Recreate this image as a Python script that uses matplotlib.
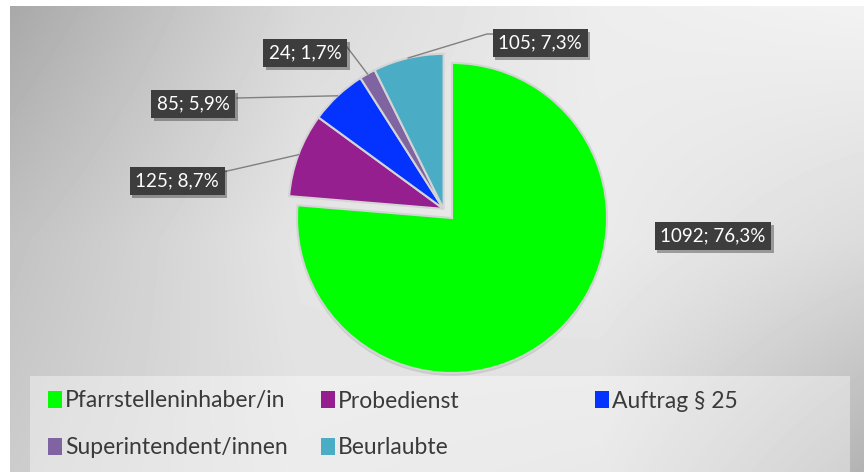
import numpy as np
import matplotlib
matplotlib.use('Agg')
import matplotlib.pyplot as plt
import matplotlib.patheffects as pe
from matplotlib.legend import Legend
from matplotlib.patches import Rectangle

plt.rcParams['font.family'] = ['Lato', 'DejaVu Sans']

categories = ['Pfarrstelleninhaber/in', 'Probedienst', 'Auftrag § 25',
              'Superintendent/innen', 'Beurlaubte']
counts = [1092, 125, 85, 24, 105]
colors = ['#00ff00', '#951f8f', '#0433ff', '#8064a2', '#4bacc6']

W, H = 864, 472
dpi = 100

# layout in pixels (from top-left): label box centres, leader line ends, legend entries
label_pos = [(713, 236), (177, 181), (193, 104), (305, 53), (540, 43)]
leader_end = [None, [(223, 172)], [(237, 98)], [(347, 47)], [(487, 34), (493, 34)]]
legend_pos = [(48, 401), (321, 401), (595, 401), (48, 448), (321, 448)]

fig = plt.figure(figsize=(W / dpi, H / dpi), dpi=dpi)
ax = fig.add_axes([0, 0, 1, 1])

# grey gradient background
gx = [10, 300, 600, 864]
gy = [6, 240, 472]
gv = [[0.66, 0.85, 0.93, 0.95],
      [0.76, 0.90, 0.92, 0.86],
      [0.80, 0.88, 0.86, 0.70]]
X = np.arange(10, W)
Y = np.arange(6, H)
rows = np.array([np.interp(X, gx, r) for r in gv])
img = np.array([np.interp(Y, gy, rows[:, j]) for j in range(len(X))]).T
ax.imshow(img, cmap='gray', vmin=0, vmax=1, extent=(10, W, 0, H - 6),
          origin='upper', aspect='auto', zorder=0, interpolation='bilinear')

cx, cy = 452, H - 218
r = 155
wedges, _ = ax.pie(counts, colors=colors, startangle=90, counterclock=False,
                   center=(cx, cy), radius=r, frame=True,
                   wedgeprops=dict(edgecolor='#d4d4d4', linewidth=1.5, zorder=2))
wedges[0].set_path_effects([pe.SimplePatchShadow(offset=(0, -2), shadow_rgbFace='#9a9a9a',
                                                 alpha=0.35), pe.Normal()])

# pull the small slices out together
t_lo = min(w.theta1 for w in wedges[1:])
t_hi = max(w.theta2 for w in wedges[1:])
mid = np.radians((t_lo + t_hi) / 2)
off = 0.08 * r
for w in wedges[1:]:
    w.set_center((cx + off * np.cos(mid), cy + off * np.sin(mid)))

total = sum(counts)
for i, w in enumerate(wedges):
    pct = 100 * counts[i] / total
    txt = f'{counts[i]}; {pct:.1f}%'.replace('.', ',')
    lx, ly = label_pos[i]
    t = ax.text(lx, H - ly, txt, ha='center', va='center', color='white',
                fontsize=13.5, zorder=6,
                bbox=dict(boxstyle='square,pad=0.3', facecolor='#3d3d3d',
                          edgecolor='none'))
    t.get_bbox_patch().set_path_effects(
        [pe.SimplePatchShadow(offset=(2, -2), alpha=0.35), pe.Normal()])
    if leader_end[i]:
        a = np.radians((w.theta1 + w.theta2) / 2)
        wx, wy = w.center
        xs = [wx + r * np.cos(a)] + [p[0] for p in leader_end[i]]
        ys = [wy + r * np.sin(a)] + [H - p[1] for p in leader_end[i]]
        ax.plot(xs, ys, color='#808080', lw=1, zorder=3)

# legend area
ax.add_patch(Rectangle((30, 0), 820, H - 376, facecolor='white', alpha=0.4,
                       edgecolor='none', zorder=1))
for w, lab, (lx, ly) in zip(wedges, categories, legend_pos):
    leg = Legend(ax, [w], [lab], loc='center left', bbox_to_anchor=(lx, H - ly),
                 bbox_transform=ax.transData, frameon=False, borderpad=0,
                 borderaxespad=0, handlelength=0.6, handleheight=0.75,
                 handletextpad=0.15, fontsize=16.5, labelcolor='#3a3a3a')
    for h in leg.legend_handles:
        h.set_edgecolor('none')
        h.set_path_effects([])
    ax.add_artist(leg)

ax.set_xlim(0, W)
ax.set_ylim(0, H)
ax.set_aspect('auto')
ax.axis('off')

fig.savefig('out.png', dpi=dpi, facecolor='white')
